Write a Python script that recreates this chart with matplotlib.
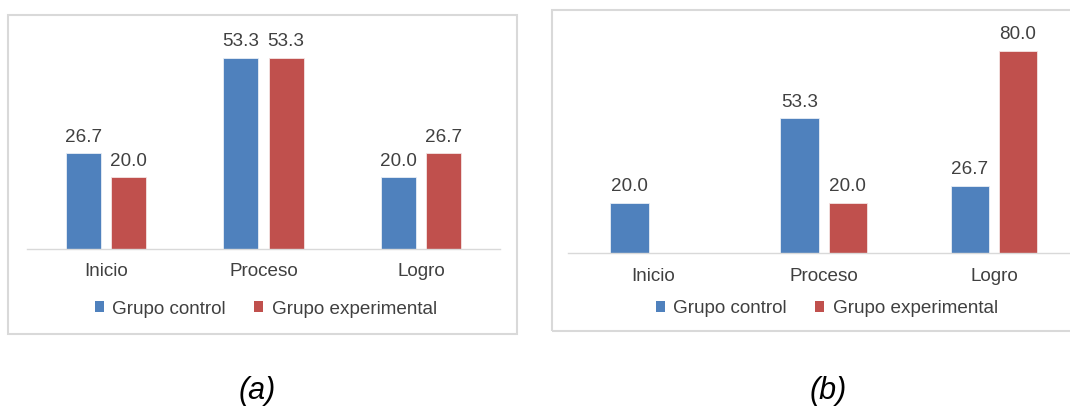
import numpy as np
import matplotlib.pyplot as plt
from matplotlib.patches import Rectangle

plt.rcParams['font.family'] = ['Liberation Sans', 'DejaVu Sans']

categories = ["Inicio", "Proceso", "Logro"]
series_names = ["Grupo control", "Grupo experimental"]
control_a = [26.7, 53.3, 20.0]
experimental_a = [20.0, 53.3, 26.7]
control_b = [20.0, 53.3, 26.7]
experimental_b = [0.0, 20.0, 80.0]
panel_labels = ["(a)", "(b)"]

BLUE = "#4F81BD"
RED = "#C0504D"
TEXT = "#404040"
GRID = "#D9D9D9"
FS = 13.6

W, H = 1070, 407
fig = plt.figure(figsize=(W / 100, H / 100), dpi=100)


def px_rect(x0, y0, x1, y1):
    # pixel box (top-left origin) -> figure fraction [left, bottom, width, height]
    return [x0 / W, 1 - y1 / H, (x1 - x0) / W, (y1 - y0) / H]


def draw_panel(rect, ymax, control, experimental, legend_xy, offset, width):
    ax = fig.add_axes(rect)
    x = np.arange(len(categories))
    b1 = ax.bar(x - offset, control, width, color=BLUE, label=series_names[0],
                edgecolor="#e8eef6", linewidth=0.6)
    b2 = ax.bar(x + offset, experimental, width, color=RED, label=series_names[1],
                edgecolor="#f4e4e4", linewidth=0.6)
    for bars, vals in [(b1, control), (b2, experimental)]:
        for bar, v in zip(bars, vals):
            if v <= 0:
                continue
            ax.annotate(f"{v:.1f}", (bar.get_x() + bar.get_width() / 2, v),
                        xytext=(0, 8.3), textcoords="offset points",
                        ha="center", va="baseline", fontsize=FS, color=TEXT)
    ax.set_xlim(-0.5, len(categories) - 0.5)
    ax.set_ylim(0, ymax)
    ax.set_xticks(x)
    ax.set_xticklabels(categories, fontsize=FS, color=TEXT)
    ax.tick_params(axis="x", length=0, pad=10.5)
    ax.set_yticks([])
    for s in ["top", "left", "right"]:
        ax.spines[s].set_visible(False)
    ax.spines["bottom"].set_color(GRID)
    ax.spines["bottom"].set_linewidth(1.0)
    ax.patch.set_alpha(0)
    leg = ax.legend(loc="center", bbox_to_anchor=(legend_xy[0] / W, 1 - legend_xy[1] / H),
                    bbox_transform=fig.transFigure, ncol=2, frameon=False,
                    fontsize=FS, labelcolor=TEXT, handlelength=0.47, handleheight=0.5,
                    handletextpad=0.45, columnspacing=1.5, borderaxespad=0, borderpad=0)
    for h in leg.legend_handles:
        h.set_linewidth(0)
    return ax


# panel frames
fig.patches.append(Rectangle((8 / W, 1 - 334 / H), (517 - 8) / W, (334 - 15) / H,
                             transform=fig.transFigure, fill=False,
                             edgecolor=GRID, linewidth=1.5))
fig.patches.append(Rectangle((552 / W, 1 - 331 / H), (1090 - 552) / W, (331 - 9.5) / H,
                             transform=fig.transFigure, fill=False,
                             edgecolor=GRID, linewidth=1.5))

draw_panel(px_rect(27, 248.7 - 60 * 3.58, 500, 248.7), 60, control_a, experimental_a,
           (266, 309), 0.1435, 0.222)
draw_panel(px_rect(568.3, 253.3 - 90 * 2.53, 1079, 253.3), 90, control_b, experimental_b,
           (827, 308.5), 0.1416, 0.226)

fig.text(257 / W, 1 - 391 / H, panel_labels[0], fontsize=22, style="italic",
         ha="center", va="center", color="black")
fig.text(828 / W, 1 - 391 / H, panel_labels[1], fontsize=22, style="italic",
         ha="center", va="center", color="black")

fig.savefig("out.png", dpi=100)
